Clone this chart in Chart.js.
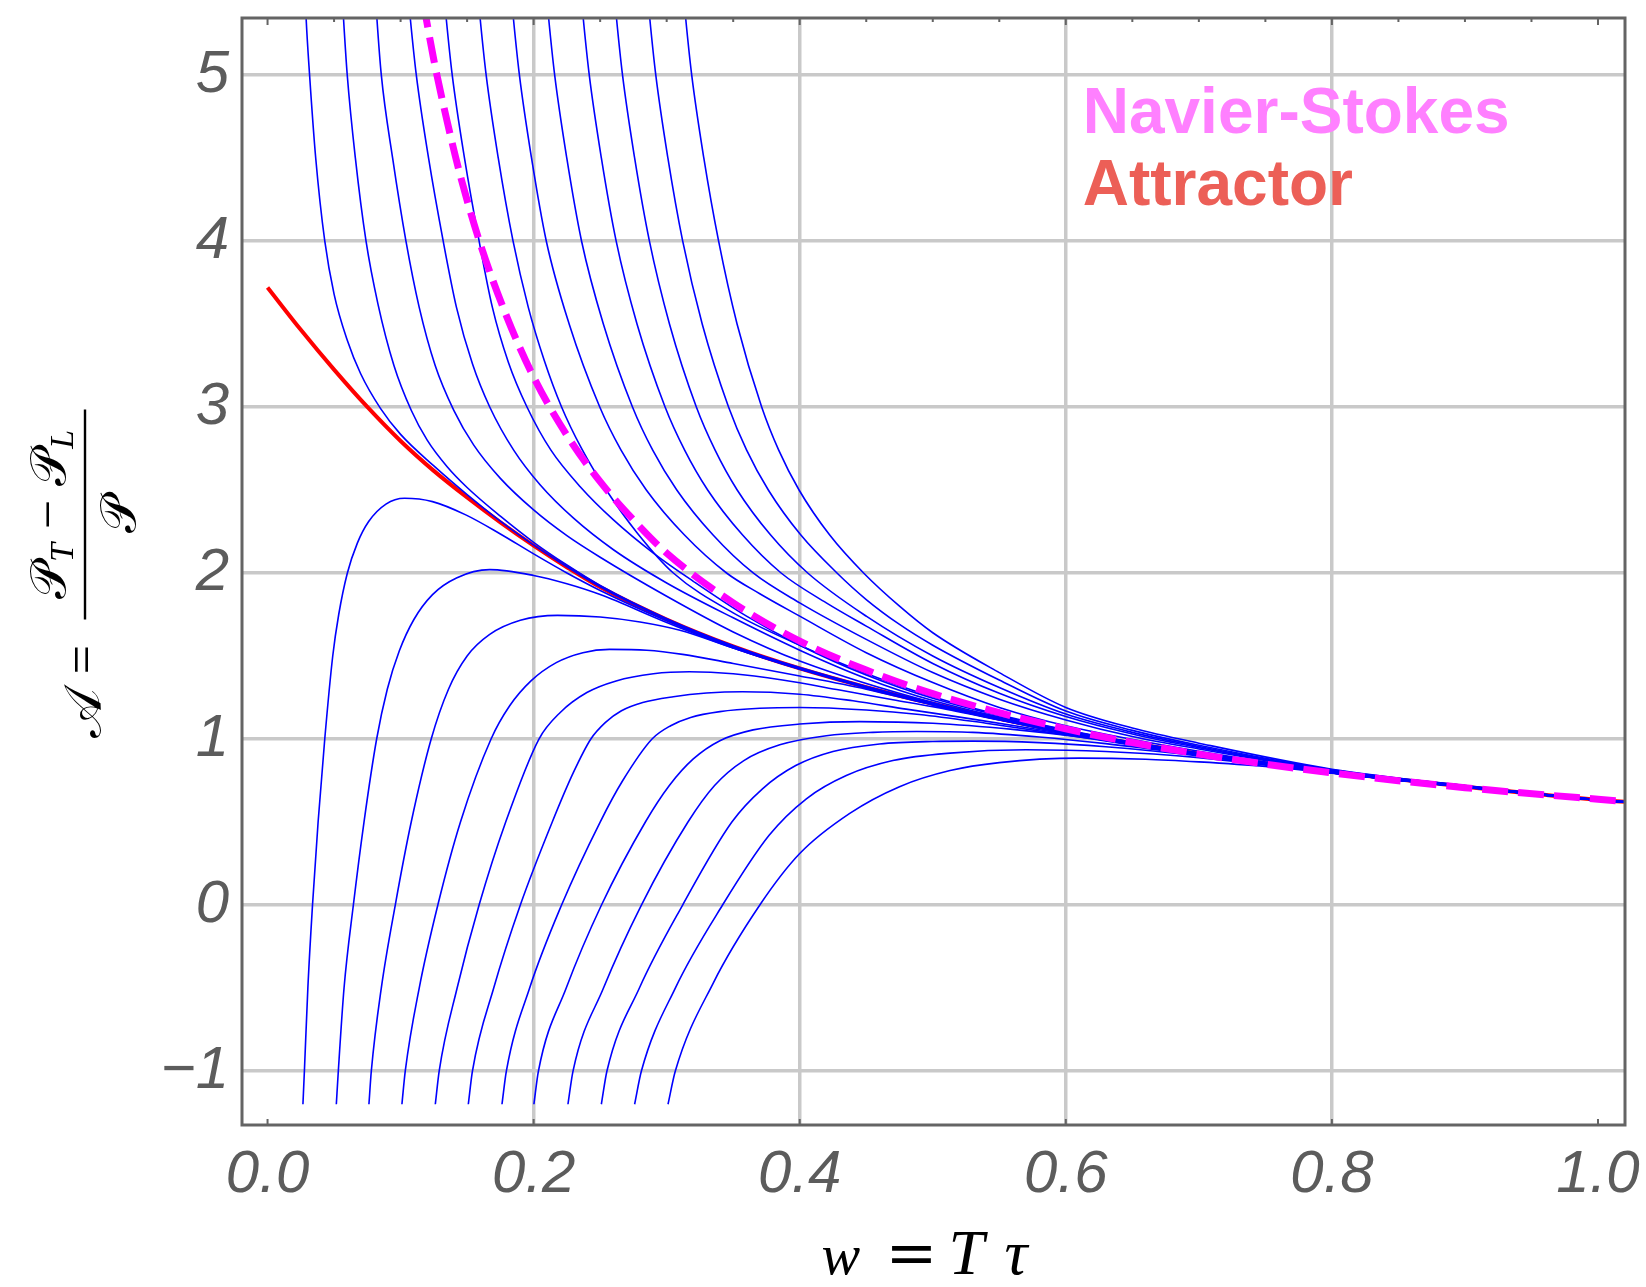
<!DOCTYPE html>
<html lang="en">
<head>
<meta charset="utf-8">
<title>Pressure anisotropy: attractor and Navier-Stokes</title>
<script src="https://cdn.jsdelivr.net/npm/chart.js@4.4.1/dist/chart.umd.min.js"></script>
<style>
  html, body { margin: 0; padding: 0; background: #ffffff; }
  canvas { display: block; }
</style>
</head>
<body>
<canvas id="chart" width="1646" height="1287"></canvas>
<script>
// ---------------------------------------------------------------- ticks
const xTicks = [0, 0.2, 0.4, 0.6, 0.8, 1.0];
const yTicks = [-1, 0, 1, 2, 3, 4, 5];
const xGridLines = [0.2, 0.4, 0.6, 0.8];

// --------------------------------------------------------------- legend
const legendLabels = ['Navier-Stokes', 'Attractor'];

// ------------------------------------------------ curves as [w, A] pairs
const attractor = [[0,3.72],[0.025,3.465],[0.05,3.225],[0.075,3.0],[0.1,2.795],[0.125,2.615],[0.15,2.455],[0.175,2.305],[0.2,2.165],[0.225,2.035],[0.25,1.915],[0.3,1.72],[0.35,1.558],[0.4,1.425],[0.45,1.312],[0.5,1.212],[0.55,1.122],[0.6,1.042],[0.7,0.912],[0.8,0.802],[0.9,0.713],[1.0,0.634],[1.03,0.616]];

const navierStokes = [[0.117,5.44],[0.125,5.09],[0.135,4.72],[0.145,4.39],[0.16,3.98],[0.18,3.54],[0.2,3.18],[0.225,2.83],[0.25,2.55],[0.275,2.32],[0.3,2.12],[0.35,1.82],[0.4,1.59],[0.45,1.415],[0.5,1.273],[0.6,1.061],[0.7,0.909],[0.8,0.796],[0.9,0.707],[1.0,0.637],[1.03,0.618]];

// trajectories starting below (A = -1.2)
const fromBelow01 = [[0.0266,-1.2],[0.0277,-1.0],[0.0303,-0.5],[0.0338,0],[0.038,0.5],[0.043,1.0],[0.049,1.5],[0.0535,1.75],[0.06,2.0],[0.0675,2.18],[0.076,2.31],[0.089,2.415],[0.103,2.45],[0.124,2.43],[0.149,2.35],[0.175,2.235],[0.2,2.115],[0.225,2.0],[0.25,1.895],[0.3,1.712],[0.35,1.553],[0.4,1.424],[0.5,1.209],[0.6,1.039],[0.7,0.909],[0.8,0.799],[0.9,0.712],[1.0,0.632],[1.03,0.614]];
const fromBelow02 = [[0.0517,-1.2],[0.0532,-1.0],[0.0575,-0.5],[0.0645,0],[0.0725,0.5],[0.082,1.0],[0.09,1.3],[0.099,1.53],[0.11,1.72],[0.124,1.87],[0.142,1.97],[0.167,2.02],[0.2,1.985],[0.225,1.935],[0.25,1.87],[0.3,1.702],[0.35,1.548],[0.4,1.422],[0.5,1.208],[0.6,1.038],[0.7,0.909],[0.8,0.799],[0.9,0.712],[1.0,0.632],[1.03,0.614]];
const fromBelow03 = [[0.0762,-1.2],[0.078,-1.0],[0.0855,-0.5],[0.096,0],[0.108,0.5],[0.123,1.0],[0.136,1.3],[0.15,1.5],[0.167,1.63],[0.19,1.715],[0.218,1.745],[0.25,1.735],[0.28,1.705],[0.31,1.655],[0.35,1.548],[0.4,1.42],[0.5,1.206],[0.6,1.037],[0.7,0.908],[0.8,0.799],[0.9,0.712],[1.0,0.632],[1.03,0.614]];
const fromBelow04 = [[0.101,-1.2],[0.1035,-1.0],[0.114,-0.5],[0.128,0],[0.145,0.5],[0.168,1.0],[0.182,1.2],[0.198,1.35],[0.217,1.46],[0.237,1.52],[0.257,1.54],[0.285,1.535],[0.312,1.51],[0.35,1.455],[0.4,1.38],[0.45,1.30],[0.5,1.205],[0.6,1.035],[0.7,0.907],[0.8,0.798],[0.9,0.712],[1.0,0.632],[1.03,0.614]];
const fromBelow05 = [[0.1261,-1.2],[0.129,-1.0],[0.1425,-0.5],[0.159,0],[0.179,0.5],[0.204,1.0],[0.22,1.16],[0.24,1.28],[0.262,1.35],[0.29,1.393],[0.317,1.405],[0.35,1.393],[0.387,1.355],[0.43,1.295],[0.47,1.237],[0.5,1.195],[0.55,1.115],[0.6,1.035],[0.7,0.906],[0.8,0.798],[0.9,0.712],[1.0,0.632],[1.03,0.614]];
const fromBelow06 = [[0.1509,-1.2],[0.154,-1.0],[0.17,-0.5],[0.19,0],[0.214,0.5],[0.23,0.8],[0.243,1.0],[0.254,1.1],[0.266,1.17],[0.282,1.22],[0.305,1.255],[0.33,1.277],[0.357,1.285],[0.4,1.27],[0.44,1.23],[0.48,1.18],[0.53,1.12],[0.6,1.03],[0.7,0.905],[0.8,0.797],[0.9,0.711],[1.0,0.632],[1.03,0.614]];
const fromBelow07 = [[0.1762,-1.2],[0.1795,-1.0],[0.197,-0.5],[0.221,0],[0.25,0.5],[0.267,0.75],[0.289,1.0],[0.303,1.08],[0.318,1.13],[0.34,1.165],[0.37,1.185],[0.40,1.19],[0.45,1.175],[0.49,1.148],[0.54,1.095],[0.6,1.025],[0.7,0.903],[0.8,0.797],[0.9,0.711],[1.0,0.632],[1.03,0.614]];
const fromBelow08 = [[0.2002,-1.2],[0.2036,-1.0],[0.2245,-0.5],[0.251,0],[0.284,0.5],[0.302,0.72],[0.32,0.88],[0.34,0.99],[0.365,1.055],[0.4,1.09],[0.445,1.105],[0.5,1.095],[0.56,1.058],[0.62,1.003],[0.7,0.905],[0.8,0.797],[0.9,0.711],[1.0,0.632],[1.03,0.614]];
const fromBelow09 = [[0.2258,-1.2],[0.2296,-1.0],[0.2525,-0.5],[0.281,0],[0.316,0.5],[0.336,0.72],[0.358,0.87],[0.385,0.965],[0.42,1.02],[0.455,1.04],[0.488,1.045],[0.53,1.04],[0.58,1.012],[0.63,0.972],[0.7,0.903],[0.8,0.796],[0.9,0.711],[1.0,0.632],[1.03,0.614]];
const fromBelow10 = [[0.2509,-1.2],[0.2551,-1.0],[0.2795,-0.5],[0.312,0],[0.349,0.5],[0.372,0.7],[0.397,0.84],[0.425,0.925],[0.46,0.97],[0.5,0.985],[0.53,0.987],[0.58,0.978],[0.63,0.953],[0.7,0.898],[0.8,0.795],[0.9,0.711],[1.0,0.632],[1.03,0.614]];
const fromBelow11 = [[0.2759,-1.2],[0.281,-1.0],[0.3065,-0.5],[0.342,0],[0.377,0.42],[0.405,0.64],[0.435,0.78],[0.47,0.87],[0.513,0.915],[0.57,0.935],[0.63,0.925],[0.7,0.888],[0.8,0.794],[0.9,0.71],[1.0,0.632],[1.03,0.614]];
const fromBelow12 = [[0.301,-1.2],[0.3065,-1.0],[0.335,-0.47],[0.37,0],[0.40,0.31],[0.4376,0.552],[0.475,0.713],[0.513,0.81],[0.55,0.858],[0.61,0.885],[0.66,0.878],[0.7,0.862],[0.75,0.835],[0.8,0.795],[0.9,0.71],[1.0,0.632],[1.03,0.614]];

// trajectories entering from above the frame
const fromAbove01 = [[0.0277,5.6],[0.029,5.34],[0.0316,5.0],[0.0362,4.5],[0.043,4.0],[0.05,3.68],[0.06,3.40],[0.07,3.20],[0.085,2.99],[0.1,2.835],[0.125,2.645],[0.15,2.472],[0.175,2.312],[0.2,2.168],[0.25,1.917],[0.3,1.721],[0.35,1.559],[0.4,1.426],[0.5,1.213],[0.6,1.043],[0.7,0.913],[0.8,0.802],[0.9,0.713],[1.0,0.633],[1.03,0.615]];
const fromAbove02 = [[0.0553,5.6],[0.0571,5.34],[0.0599,5.0],[0.066,4.5],[0.074,4.0],[0.083,3.62],[0.095,3.25],[0.108,2.98],[0.12,2.80],[0.135,2.64],[0.15,2.515],[0.175,2.342],[0.2,2.185],[0.225,2.048],[0.25,1.925],[0.3,1.725],[0.35,1.562],[0.4,1.43],[0.5,1.214],[0.6,1.043],[0.7,0.913],[0.8,0.802],[0.9,0.713],[1.0,0.633],[1.03,0.615]];
const fromAbove03 = [[0.0802,5.6],[0.0822,5.34],[0.0855,5.0],[0.094,4.5],[0.104,4.0],[0.114,3.6],[0.126,3.25],[0.14,2.98],[0.155,2.77],[0.175,2.57],[0.2,2.38],[0.225,2.225],[0.25,2.095],[0.3,1.86],[0.35,1.645],[0.4,1.47],[0.5,1.22],[0.6,1.044],[0.7,0.913],[0.8,0.802],[0.9,0.713],[1.0,0.633],[1.03,0.615]];
const fromAbove04 = [[0.1044,5.6],[0.1073,5.34],[0.1118,5.0],[0.121,4.5],[0.132,4.0],[0.142,3.6],[0.154,3.26],[0.167,3.0],[0.185,2.74],[0.205,2.53],[0.23,2.33],[0.26,2.14],[0.3,1.94],[0.35,1.73],[0.4,1.535],[0.45,1.365],[0.5,1.232],[0.6,1.048],[0.7,0.914],[0.8,0.802],[0.9,0.713],[1.0,0.633],[1.03,0.615]];
const fromAbove05 = [[0.1314,5.6],[0.1343,5.34],[0.1388,5.0],[0.148,4.5],[0.159,4.0],[0.169,3.6],[0.181,3.27],[0.195,3.0],[0.213,2.74],[0.235,2.52],[0.26,2.32],[0.29,2.12],[0.32,1.95],[0.36,1.74],[0.4,1.565],[0.45,1.385],[0.5,1.245],[0.6,1.052],[0.7,0.915],[0.8,0.803],[0.9,0.714],[1.0,0.634],[1.03,0.616]];
const fromAbove06 = [[0.1569,5.6],[0.1598,5.34],[0.1643,5.0],[0.1734,4.5],[0.1845,4.0],[0.196,3.6],[0.208,3.28],[0.221,3.0],[0.236,2.75],[0.2546,2.5],[0.278,2.24],[0.305,2.0],[0.35,1.76],[0.4,1.565],[0.45,1.395],[0.5,1.255],[0.6,1.055],[0.7,0.916],[0.8,0.803],[0.9,0.714],[1.0,0.634],[1.03,0.616]];
const fromAbove07 = [[0.1819,5.6],[0.1848,5.34],[0.1893,5.0],[0.1984,4.5],[0.2095,4.0],[0.2267,3.5],[0.2497,3.0],[0.2657,2.74],[0.2847,2.5],[0.3132,2.23],[0.345,2.0],[0.37,1.875],[0.4,1.74],[0.45,1.52],[0.5,1.34],[0.55,1.19],[0.6,1.08],[0.7,0.926],[0.8,0.805],[0.9,0.715],[1.0,0.634],[1.03,0.616]];
const fromAbove08 = [[0.2084,5.6],[0.2113,5.34],[0.2158,5.0],[0.2249,4.5],[0.236,4.0],[0.2524,3.5],[0.2743,3.0],[0.2895,2.74],[0.3076,2.5],[0.3347,2.23],[0.365,2.0],[0.4,1.82],[0.45,1.60],[0.5,1.40],[0.55,1.24],[0.6,1.115],[0.65,1.015],[0.7,0.94],[0.8,0.807],[0.9,0.716],[1.0,0.634],[1.03,0.616]];
const fromAbove09 = [[0.2344,5.6],[0.2373,5.34],[0.2418,5.0],[0.2509,4.5],[0.262,4.0],[0.2777,3.5],[0.2988,3.0],[0.3135,2.74],[0.3308,2.5],[0.3569,2.23],[0.386,2.0],[0.42,1.82],[0.45,1.68],[0.5,1.455],[0.55,1.275],[0.6,1.135],[0.65,1.03],[0.7,0.948],[0.8,0.809],[0.9,0.716],[1.0,0.634],[1.03,0.616]];
const fromAbove10 = [[0.2594,5.6],[0.2623,5.34],[0.2668,5.0],[0.2759,4.5],[0.287,4.0],[0.3021,3.5],[0.3223,3.0],[0.3364,2.74],[0.353,2.5],[0.378,2.23],[0.406,2.0],[0.45,1.74],[0.5,1.50],[0.55,1.31],[0.6,1.15],[0.65,1.04],[0.7,0.955],[0.8,0.812],[0.9,0.717],[1.0,0.634],[1.03,0.616]];
const fromAbove11 = [[0.2844,5.6],[0.2873,5.34],[0.2918,5.0],[0.3009,4.5],[0.312,4.0],[0.3267,3.5],[0.3465,3.0],[0.3601,2.74],[0.3764,2.5],[0.4007,2.23],[0.428,2.0],[0.45,1.84],[0.475,1.69],[0.5,1.565],[0.55,1.355],[0.6,1.168],[0.65,1.052],[0.7,0.962],[0.8,0.815],[0.9,0.718],[1.0,0.634],[1.03,0.616]];
const fromAbove12 = [[0.3114,5.6],[0.3143,5.34],[0.3188,5.0],[0.3279,4.5],[0.339,4.0],[0.3529,3.5],[0.3714,3.0],[0.3842,2.74],[0.3995,2.5],[0.4224,2.23],[0.448,2.0],[0.475,1.80],[0.5,1.64],[0.55,1.40],[0.6,1.19],[0.65,1.066],[0.7,0.975],[0.8,0.818],[0.9,0.72],[1.0,0.635],[1.03,0.617]];

const trajectories = [
  fromBelow01, fromBelow02, fromBelow03, fromBelow04, fromBelow05, fromBelow06,
  fromBelow07, fromBelow08, fromBelow09, fromBelow10, fromBelow11, fromBelow12,
  fromAbove01, fromAbove02, fromAbove03, fromAbove04, fromAbove05, fromAbove06,
  fromAbove07, fromAbove08, fromAbove09, fromAbove10, fromAbove11, fromAbove12
];

// ---------------------------------------------------------------- style
const FRAME = '#646464';
const GRID = '#c9c9c9';
const TICK_TEXT = '#5c5c5c';
const SANS = "'Liberation Sans', Arial, Helvetica, sans-serif";
const SERIF = "'Liberation Serif', 'Times New Roman', serif";
const SCRIPT = "'DejaVu Serif', 'DejaVu Sans', serif";

Chart.defaults.font.family = SANS;

const toPoints = arr => arr.map(([x, y]) => ({ x, y }));

const datasets = [
  {
    label: 'Navier-Stokes',
    data: toPoints(navierStokes),
    borderColor: '#ff00ff',
    borderWidth: 7,
    borderDash: [26, 10],
    order: 0
  },
  ...trajectories.map((t, i) => ({
    label: 'trajectory ' + (i + 1),
    data: toPoints(t),
    borderColor: '#0000ff',
    borderWidth: 1.6,
    order: 1
  })),
  {
    label: 'Attractor',
    data: toPoints(attractor),
    borderColor: '#ff0000',
    borderWidth: 4,
    order: 2
  }
].map(d => Object.assign({
  showLine: true,
  fill: false,
  pointRadius: 0,
  pointHoverRadius: 0,
  cubicInterpolationMode: 'monotone',
  clip: 0
}, d));

// frame, frame ticks, axis titles and the text legend
const decorations = {
  id: 'decorations',
  afterDatasetsDraw(chart) {
    const { ctx, chartArea: a, scales: { x } } = chart;
    ctx.save();
    ctx.strokeStyle = FRAME;
    ctx.lineWidth = 3;
    ctx.strokeRect(a.left, a.top, a.right - a.left, a.bottom - a.top);
    ctx.lineWidth = 2;
    ctx.beginPath();
    for (let k = 0; k <= 20; k++) {
      const px = x.getPixelForValue(k * 0.05);
      ctx.moveTo(px, a.top);
      ctx.lineTo(px, a.top + (k % 4 === 0 ? 7 : 4));
    }
    for (const v of xTicks) {
      const px = x.getPixelForValue(v);
      ctx.moveTo(px, a.bottom);
      ctx.lineTo(px, a.bottom - 6);
    }
    ctx.stroke();
    ctx.restore();
  },
  afterDraw(chart) {
    const { ctx, chartArea: a, scales: { x, y } } = chart;
    ctx.save();
    ctx.fillStyle = '#000000';
    ctx.textBaseline = 'alphabetic';

    // horizontal axis title: w = T tau
    const cx = (a.left + a.right) / 2;
    const base = a.bottom + 149;
    ctx.textAlign = 'left';
    ctx.font = `italic 58px ${SERIF}`;
    ctx.fillText('w', cx - 112, base);
    ctx.textAlign = 'center';
    ctx.font = `62px ${SCRIPT}`;
    ctx.fillText('=', cx - 22, base);
    ctx.textAlign = 'left';
    ctx.font = `italic 64px ${SERIF}`;
    ctx.fillText('T', cx + 15, base);
    ctx.fillText('τ', cx + 71, base);

    // vertical axis title: A = (P_T - P_L) / P, read bottom to top
    ctx.save();
    ctx.translate(a.left - 157, (a.top + a.bottom) / 2);
    ctx.rotate(-Math.PI / 2);
    const big = `50px ${SCRIPT}`;
    const sub = `italic 34px ${SERIF}`;
    const op = `52px ${SERIF}`;
    ctx.textAlign = 'left';
    ctx.font = `52px ${SCRIPT}`;
    ctx.fillText('𝒜', -166, 16);
    ctx.textAlign = 'center';
    ctx.font = op;
    ctx.fillText('=', -88, 14);
    ctx.fillRect(-48, -1.2, 210, 2.4);
    const parts = [
      { t: '𝒫', f: big, dy: 0, gap: 0 },
      { t: 'T', f: sub, dy: 8, gap: 1 },
      { t: '−', f: op, dy: 0, gap: 14 },
      { t: '𝒫', f: big, dy: 0, gap: 14 },
      { t: 'L', f: sub, dy: 8, gap: 1 }
    ];
    let total = 0;
    for (const p of parts) { ctx.font = p.f; p.w = ctx.measureText(p.t).width; total += p.gap + p.w; }
    let u = 57 - total / 2;
    ctx.textAlign = 'left';
    for (const p of parts) {
      u += p.gap;
      ctx.font = p.f;
      ctx.fillText(p.t, u, -20 + p.dy);
      u += p.w;
    }
    ctx.textAlign = 'center';
    ctx.font = big;
    ctx.fillText('𝒫', 57, 50);
    ctx.restore();

    // legend text
    ctx.textAlign = 'left';
    ctx.font = `bold 64px ${SANS}`;
    const lx = x.getPixelForValue(0.6127);
    ctx.fillStyle = '#ff80ff';
    ctx.fillText(legendLabels[0], lx, y.getPixelForValue(4.65));
    ctx.fillStyle = '#ec5f57';
    ctx.fillText(legendLabels[1], lx, y.getPixelForValue(4.217));
    ctx.restore();
  }
};

new Chart(document.getElementById('chart'), {
  type: 'scatter',
  data: { datasets },
  plugins: [decorations],
  options: {
    responsive: false,
    devicePixelRatio: 1,
    animation: false,
    events: [],
    layout: { padding: { top: 18, right: 21, bottom: 0, left: 0 } },
    plugins: { legend: { display: false }, tooltip: { enabled: false }, title: { display: false } },
    scales: {
      x: {
        type: 'linear',
        min: -0.0192,
        max: 1.0203,
        afterBuildTicks: s => { s.ticks = xTicks.map(value => ({ value })); },
        afterFit: s => { s.height = 162; s.paddingLeft = 0; s.paddingRight = 0; },
        border: { display: false },
        grid: {
          drawTicks: false,
          lineWidth: 3.5,
          color: c => (c.tick && xGridLines.includes(c.tick.value)) ? GRID : 'rgba(0,0,0,0)'
        },
        ticks: {
          autoSkip: false,
          maxRotation: 0,
          minRotation: 0,
          padding: 14,
          color: TICK_TEXT,
          font: { family: SANS, size: 60, style: 'italic' },
          callback: v => v.toFixed(1)
        }
      },
      y: {
        type: 'linear',
        min: -1.325,
        max: 5.343,
        afterBuildTicks: s => { s.ticks = yTicks.map(value => ({ value })); },
        afterFit: s => { s.width = 242; s.paddingTop = 0; s.paddingBottom = 0; },
        border: { display: false },
        grid: { drawTicks: false, lineWidth: 3.5, color: GRID },
        ticks: {
          autoSkip: false,
          padding: 13,
          color: TICK_TEXT,
          font: { family: SANS, size: 60, style: 'italic' },
          callback: v => (v < 0 ? '\u2212' + (-v) : String(v))
        }
      }
    }
  }
});
</script>
</body>
</html>
